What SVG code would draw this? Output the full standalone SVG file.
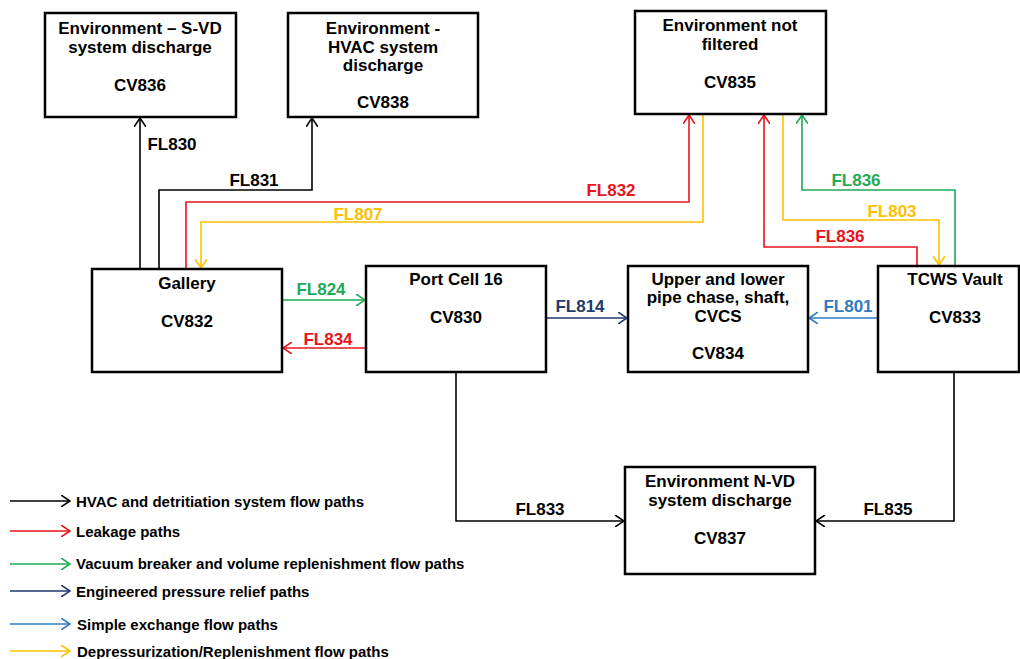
<svg xmlns="http://www.w3.org/2000/svg" width="1020" height="659" viewBox="0 0 1020 659">
<style>
.box{fill:#fff;stroke:#000;stroke-width:2.5}
.t{font-family:"Liberation Sans",Arial,sans-serif;font-weight:bold;font-size:17px;text-anchor:middle;fill:#000}
.fl{font-family:"Liberation Sans",Arial,sans-serif;font-weight:bold;font-size:17px;text-anchor:middle}
.lg{font-family:"Liberation Sans",Arial,sans-serif;font-weight:bold;font-size:15px;fill:#000}
.c{fill:none;stroke-width:1.6}
.k{stroke:#000}.r{stroke:#E8141B}.g{stroke:#1FAA55}.n{stroke:#1F3A6E}.b{stroke:#2E7BC0}.y{stroke:#FFC000}
</style>
<defs>
<marker id="ak" viewBox="0 0 10 12" refX="9" refY="6" markerWidth="10" markerHeight="12" markerUnits="userSpaceOnUse" orient="auto"><path d="M0,0 L9,6 L0,12" fill="none" stroke="#000" stroke-width="1.6"/></marker>
<marker id="ar" viewBox="0 0 10 12" refX="9" refY="6" markerWidth="10" markerHeight="12" markerUnits="userSpaceOnUse" orient="auto"><path d="M0,0 L9,6 L0,12" fill="none" stroke="#E8141B" stroke-width="1.6"/></marker>
<marker id="ag" viewBox="0 0 10 12" refX="9" refY="6" markerWidth="10" markerHeight="12" markerUnits="userSpaceOnUse" orient="auto"><path d="M0,0 L9,6 L0,12" fill="none" stroke="#1FAA55" stroke-width="1.6"/></marker>
<marker id="an" viewBox="0 0 10 12" refX="9" refY="6" markerWidth="10" markerHeight="12" markerUnits="userSpaceOnUse" orient="auto"><path d="M0,0 L9,6 L0,12" fill="none" stroke="#1F3A6E" stroke-width="1.6"/></marker>
<marker id="ab" viewBox="0 0 10 12" refX="9" refY="6" markerWidth="10" markerHeight="12" markerUnits="userSpaceOnUse" orient="auto"><path d="M0,0 L9,6 L0,12" fill="none" stroke="#2E7BC0" stroke-width="1.6"/></marker>
<marker id="ay" viewBox="0 0 10 12" refX="9" refY="6" markerWidth="10" markerHeight="12" markerUnits="userSpaceOnUse" orient="auto"><path d="M0,0 L9,6 L0,12" fill="none" stroke="#FFC000" stroke-width="1.6"/></marker>
</defs>
<rect width="1020" height="659" fill="#fff"/>

<g id="connectors">
<path class="c k" d="M140,268 V118" marker-end="url(#ak)"/>
<path class="c k" d="M159,268 V190 H312 V118" marker-end="url(#ak)"/>
<path class="c r" d="M186,268 V202 H689 V115" marker-end="url(#ar)"/>
<path class="c y" d="M703,114 V222 H201 V268" marker-end="url(#ay)"/>
<path class="c r" d="M917,265 V247 H764 V115" marker-end="url(#ar)"/>
<path class="c y" d="M783,114 V220 H939 V265" marker-end="url(#ay)"/>
<path class="c g" d="M955,265 V190 H802 V115" marker-end="url(#ag)"/>
<path class="c g" d="M283,300 H365" marker-end="url(#ag)"/>
<path class="c r" d="M365,348 H283" marker-end="url(#ar)"/>
<path class="c n" d="M547,318 H627" marker-end="url(#an)"/>
<path class="c b" d="M877,318 H809" marker-end="url(#ab)"/>
<path class="c k" d="M456,373 V521 H624" marker-end="url(#ak)"/>
<path class="c k" d="M954,373 V521 H816" marker-end="url(#ak)"/>
<text class="fl" x="172" y="150" fill="#000">FL830</text>
<text class="fl" x="254" y="186" fill="#000">FL831</text>
<text class="fl" x="611" y="196" fill="#E8141B">FL832</text>
<text class="fl" x="358" y="220" fill="#FFC000">FL807</text>
<text class="fl" x="856" y="186" fill="#1FAA55">FL836</text>
<text class="fl" x="892" y="217" fill="#FFC000">FL803</text>
<text class="fl" x="840" y="242" fill="#E8141B">FL836</text>
<text class="fl" x="321" y="295" fill="#1FAA55">FL824</text>
<text class="fl" x="328" y="345" fill="#E8141B">FL834</text>
<text class="fl" x="580" y="312" fill="#1F3A6E">FL814</text>
<text class="fl" x="848" y="312" fill="#2E7BC0">FL801</text>
<text class="fl" x="540" y="515" fill="#000">FL833</text>
<text class="fl" x="888" y="515" fill="#000">FL835</text>
</g>

<g id="cv836">
<rect class="box" x="45" y="13" width="191" height="104"/>
<text class="t" x="140" y="34">Environment – S-VD</text>
<text class="t" x="140" y="53">system discharge</text>
<text class="t" x="140" y="91">CV836</text>
</g>
<g id="cv838">
<rect class="box" x="288" y="13" width="190" height="104"/>
<text class="t" x="383" y="34">Environment -</text>
<text class="t" x="383" y="53">HVAC system</text>
<text class="t" x="383" y="71">discharge</text>
<text class="t" x="383" y="108">CV838</text>
</g>
<g id="cv835">
<rect class="box" x="635" y="11" width="191" height="103"/>
<text class="t" x="730" y="31">Environment not</text>
<text class="t" x="730" y="50">filtered</text>
<text class="t" x="730" y="88">CV835</text>
</g>
<g id="cv832">
<rect class="box" x="92" y="269" width="190" height="103"/>
<text class="t" x="187" y="289">Gallery</text>
<text class="t" x="187" y="327">CV832</text>
</g>
<g id="cv830">
<rect class="box" x="366" y="266" width="180" height="106"/>
<text class="t" x="456" y="285">Port Cell 16</text>
<text class="t" x="456" y="323">CV830</text>
</g>
<g id="cv834">
<rect class="box" x="628" y="266" width="180" height="106"/>
<text class="t" x="718" y="285">Upper and lower</text>
<text class="t" x="718" y="303">pipe chase, shaft,</text>
<text class="t" x="718" y="322">CVCS</text>
<text class="t" x="718" y="359">CV834</text>
</g>
<g id="cv833">
<rect class="box" x="878" y="266" width="141" height="106"/>
<text class="t" x="955" y="285">TCWS Vault</text>
<text class="t" x="955" y="323">CV833</text>
</g>
<g id="cv837">
<rect class="box" x="625" y="467" width="190" height="107"/>
<text class="t" x="720" y="487">Environment N-VD</text>
<text class="t" x="720" y="506">system discharge</text>
<text class="t" x="720" y="544">CV837</text>
</g>

<g id="legend">
<path class="c k" d="M10,501 H70" marker-end="url(#ak)"/>
<path class="c r" d="M10,531 H70" marker-end="url(#ar)"/>
<path class="c g" d="M10,564 H70" marker-end="url(#ag)"/>
<path class="c n" d="M10,591 H70" marker-end="url(#an)"/>
<path class="c b" d="M10,624 H70" marker-end="url(#ab)"/>
<path class="c y" d="M10,651 H70" marker-end="url(#ay)"/>
<text class="lg" x="76" y="507">HVAC and detritiation system flow paths</text>
<text class="lg" x="76" y="537">Leakage paths</text>
<text class="lg" x="76" y="569">Vacuum breaker and volume replenishment flow paths</text>
<text class="lg" x="76" y="597">Engineered pressure relief paths</text>
<text class="lg" x="77" y="630">Simple exchange flow paths</text>
<text class="lg" x="77" y="657">Depressurization/Replenishment flow paths</text>
</g>
</svg>
